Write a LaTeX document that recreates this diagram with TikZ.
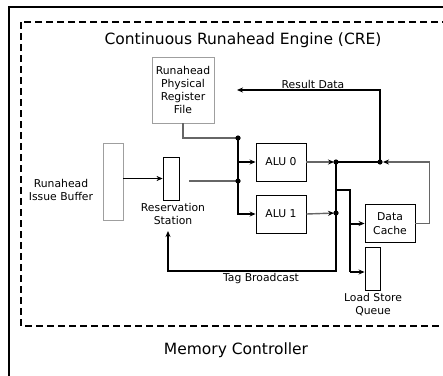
\documentclass[tikz,border=0pt]{standalone}
\usepackage{fontspec}
\setmainfont{DejaVu Sans}
\usetikzlibrary{arrows.meta}

\newcommand{\smalltxt}{\fontsize{10.8}{13.3}\selectfont}
\newcommand{\bigtxt}{\fontsize{15.5}{18}\selectfont}

\tikzset{
  unit/.style={draw=black, line width=0.9pt, inner sep=0pt, align=center, font=\smalltxt},
  faint/.style={unit, draw=gray!75},
  lbl/.style={inner sep=0pt, align=center, font=\smalltxt},
  bus/.style={line width=2pt},
  wire/.style={line width=1.4pt, draw=gray!80!black},
  tip/.style={-{Stealth[length=6pt,width=5pt,black]}},
}

\begin{document}
\begin{tikzpicture}[x=1pt,y=-1pt]

\useasboundingbox (0,0) rectangle (443,375);
\clip (0,0) rectangle (443,375);

\draw[line width=2.2pt] (9,7) rectangle (470,400);
\draw[line width=1.6pt, dash pattern=on 7pt off 4pt] (21,22) rectangle (470,326);

\node[font=\bigtxt, inner sep=0pt] (cre) at (243,40) {Continuous Runahead Engine (CRE)};
\node[font=\bigtxt, inner sep=0pt] (mc) at (236,350) {Memory Controller};

\node[faint, minimum width=62, minimum height=66] (prf) at (183,90) {Runahead\\Physical\\Register\\File};
\node[faint, minimum width=20, minimum height=77] (rib) at (113,181.5) {};
\node[lbl] (riblbl) at (61,190) {Runahead\\Issue Buffer};
\node[unit, minimum width=16, minimum height=43] (rs) at (171,178.5) {};
\node[lbl] (rslbl) at (173,214) {Reservation\\Station};
\node[unit, minimum width=50, minimum height=38] (alu0) at (281,162) {ALU 0};
\node[unit, minimum width=50, minimum height=38] (alu1) at (281,214) {ALU 1};
\node[unit, minimum width=50, minimum height=38] (dc) at (390,223.5) {Data\\Cache};
\node[unit, minimum width=15, minimum height=43] (lsq) at (372.5,268.5) {};
\node[lbl] (lsqlbl) at (373,304.5) {Load Store\\Queue};
\node[lbl] (rdlbl) at (313,84) {Result Data};
\node[lbl] (tblbl) at (261,279) {Tag Broadcast};

\coordinate (j1) at (238,138);
\coordinate (j2) at (238,181);
\coordinate (j4) at (336,162);
\coordinate (j5) at (336,213);
\coordinate (j6) at (380,162);
\coordinate (rsout) at (189,181);
\coordinate (rdend) at (237,90);
\coordinate (tagcorner) at (336,271);
\coordinate (tagend) at (168,231);
\coordinate (memsplit) at (336,190);
\coordinate (membus) at (350,190);
\coordinate (lsqin) at (350,272);

\draw[wire] (prf.south) |- (j1);
\draw[wire] (rsout) -- (j2);
\draw[tip] (rib.east |- rs.west) -- (rs.west);

\draw[bus,tip] (j1) |- (alu1.west);
\draw[bus,tip] (j1 |- alu0.west) -- (alu0.west);

\draw[wire,tip,shorten >=2pt] (alu0.east) -- (j4);
\draw[wire,tip,shorten >=2pt] (alu1.east) -- (j5);

\draw[bus] (j4) -- (j6);
\draw[bus,tip] (j6) |- (rdend);
\draw[bus,tip] (j4) -- (tagcorner) -| (tagend);

\draw[bus] (memsplit) -| (lsqin);
\draw[bus,tip] (membus |- dc.west) -- (dc.west);
\draw[bus,tip] (lsqin) -- (lsqin -| lsq.west);

\draw[wire,tip,shorten >=3pt] (dc.east) -- ++(14,0) |- (j6);

\fill (j1) circle (2.6);
\fill (j2) circle (2.6);
\fill (j4) circle (2.6);
\fill (j5) circle (2.6);
\fill (j6) circle (2.6);

\end{tikzpicture}
\end{document}
